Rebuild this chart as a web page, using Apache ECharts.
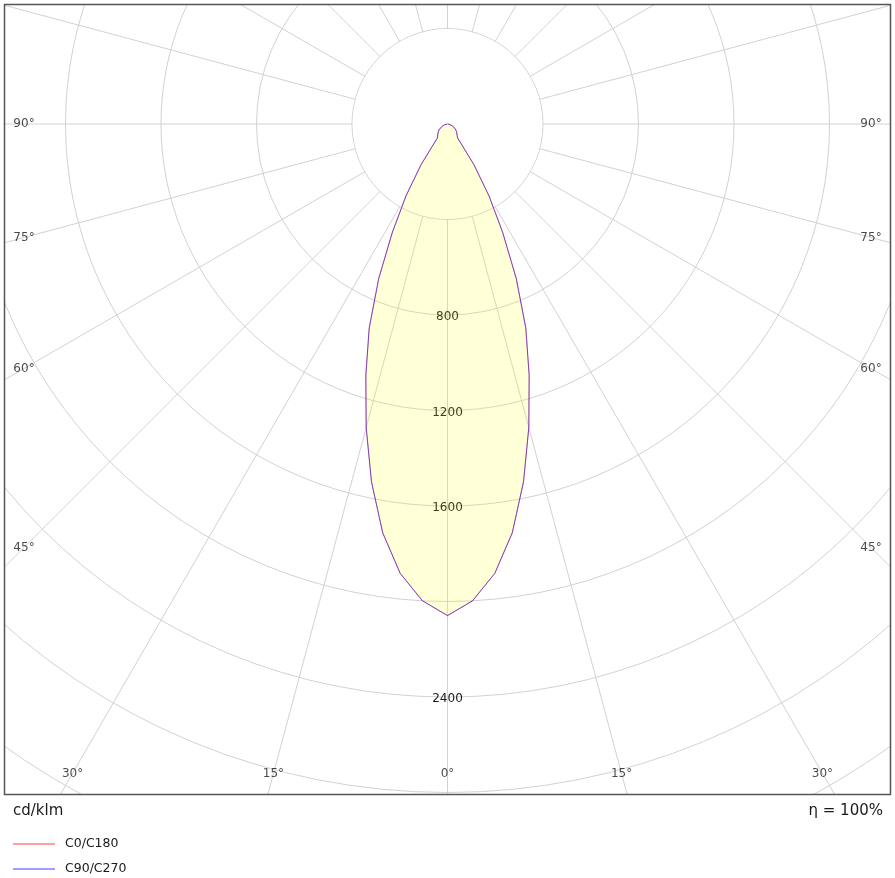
<!DOCTYPE html>
<html><head><meta charset="utf-8">
<script src="https://cdn.jsdelivr.net/npm/echarts@6/dist/echarts.min.js"></script>
<style>html,body{margin:0;padding:0;background:#fff}#c{width:895px;height:878px}</style>
</head><body><div id="c"></div><script>
// ---- data (cd/klm) ----
const gammaAngles = [0,3,6,9,12,15,18,21,24,27,30,33,36,40,45,50,55,60,65,70,75,80,85,90];
const c0c180   = [2059,2000,1893,1734,1532,1316,1107,915,708,508,348,204,72,63,57,50,44,36,27,20,14,8,4,1];
const c90c270  = [2059,2000,1893,1734,1532,1316,1107,915,708,508,348,204,72,63,57,50,44,36,27,20,14,8,4,1];
const seriesNames = ['C0/C180','C90/C270'];
const radiusLabelValues = [800,1200,1600,2400];
const innerRingValue = 400;
const angleLabelGammas = [90,75,60,45,30,15,0,15,30,45,60,75,90];
const angleLabelSides  = [-1,-1,-1,-1,-1,-1,0,1,1,1,1,1,1];
const unitLabel = 'cd/klm';
const efficiencyLabel = 'η = 100%';

// ---- layout ----
const FONT = 'DejaVu Sans';
const CX = 447.5, CY = 124;
const RMAX = 859.5, VMAX = 3600;
const K = RMAX / VMAX;
const LBL_L = 24, LBL_R = 871, LBL_B = 773.5;

function curve(vals){
  const pts = [];
  for (let i = gammaAngles.length - 1; i > 0; i--) pts.push([vals[i], 360 - gammaAngles[i]]);
  for (let i = 0; i < gammaAngles.length; i++) pts.push([vals[i], gammaAngles[i]]);
  return pts;
}
const angleLabelData = angleLabelGammas.map((g, i) => {
  const side = angleLabelSides[i];
  const rad = g * Math.PI / 180, s = Math.sin(rad), c = Math.cos(rad);
  let t = Infinity;
  if (s > 1e-6) t = Math.min(t, (side < 0 ? CX - LBL_L : LBL_R - CX) / s);
  if (c > 1e-6) t = Math.min(t, (LBL_B - CY) / c);
  const ang = side < 0 ? 360 - g : g;
  return { name: g + '°', value: [t / K, ang] };
});

const chart = echarts.init(document.getElementById('c'), null, {renderer:'canvas'});
chart.setOption({
  animation: false,
  backgroundColor: '#fff',
  polar: { center: [CX, CY], radius: [0, RMAX] },
  angleAxis: {
    type: 'value', min: 0, max: 360, interval: 15, startAngle: 270, clockwise: false,
    axisLine: {show: false}, axisTick: {show: false}, axisLabel: {show: false},
    splitLine: {show: true, lineStyle: {color: '#d2d2d2', width: 1}}
  },
  radiusAxis: {
    type: 'value', min: 0, max: VMAX, interval: 400,
    axisLine: {show: false}, axisTick: {show: false},
    splitLine: {show: true, lineStyle: {color: '#d2d2d2', width: 1}},
    axisLabel: {
      show: true, margin: 0, align: 'center', verticalAlign: 'top', lineHeight: 4,
      fontSize: 12, color: '#1a1a1a', fontFamily: FONT,
      formatter: v => radiusLabelValues.includes(v) ? String(v) : ''
    }
  },
  legend: {
    data: seriesNames, orient: 'vertical', left: 13, top: 837, padding: 0,
    icon: 'rect', itemWidth: 42, itemHeight: 1.5, itemGap: 11, z: 100,
    textStyle: {fontSize: 12.5, lineHeight: 14, color: '#1a1a1a', fontFamily: FONT, padding: [0,0,0,5]}
  },
  series: [
    { type: 'line', name: seriesNames[0], coordinateSystem: 'polar', data: curve(c0c180),
      symbol: 'none', clip: false, z: 2,
      lineStyle: {color: 'rgba(255,0,0,0.5)', width: 1}, itemStyle: {color: 'rgba(255,0,0,0.5)'},
      areaStyle: {origin: 'start', color: 'rgba(255,255,0,0.22)'} },
    { type: 'line', name: seriesNames[1], coordinateSystem: 'polar', data: curve(c90c270),
      symbol: 'none', clip: false, z: 3,
      lineStyle: {color: 'rgba(0,0,255,0.5)', width: 1}, itemStyle: {color: 'rgba(0,0,255,0.5)'} },
    { type: 'scatter', coordinateSystem: 'polar', data: angleLabelData, symbolSize: 0, silent: true, z: 5,
      label: {show: true, position: 'inside', formatter: '{b}', fontSize: 12, color: '#1a1a1a', fontFamily: FONT} }
  ],
  graphic: { elements: [
    {type:'circle', z:1, shape:{cx:CX, cy:CY, r:innerRingValue * K - 0.6}, style:{fill:'#fff'}, silent:true},
    {type:'rect', z:50, shape:{x:0,y:0,width:895,height:4}, style:{fill:'#fff'}, silent:true},
    {type:'rect', z:50, shape:{x:0,y:0,width:4,height:878}, style:{fill:'#fff'}, silent:true},
    {type:'rect', z:50, shape:{x:891,y:0,width:4,height:878}, style:{fill:'#fff'}, silent:true},
    {type:'rect', z:50, shape:{x:0,y:795,width:895,height:83}, style:{fill:'#fff'}, silent:true},
    {type:'rect', z:60, shape:{x:4.5,y:4.5,width:886,height:790}, style:{fill:'none', stroke:'#555', lineWidth:1.5}, silent:true},
    {type:'text', z:100, x:13, y:811, style:{text:unitLabel, fontSize:15, fontFamily:FONT, fill:'#1a1a1a', verticalAlign:'middle'}},
    {type:'text', z:100, x:883, y:811, style:{text:efficiencyLabel, fontSize:15, fontFamily:FONT, fill:'#1a1a1a', align:'right', verticalAlign:'middle'}}
  ]}
});
</script></body></html>
